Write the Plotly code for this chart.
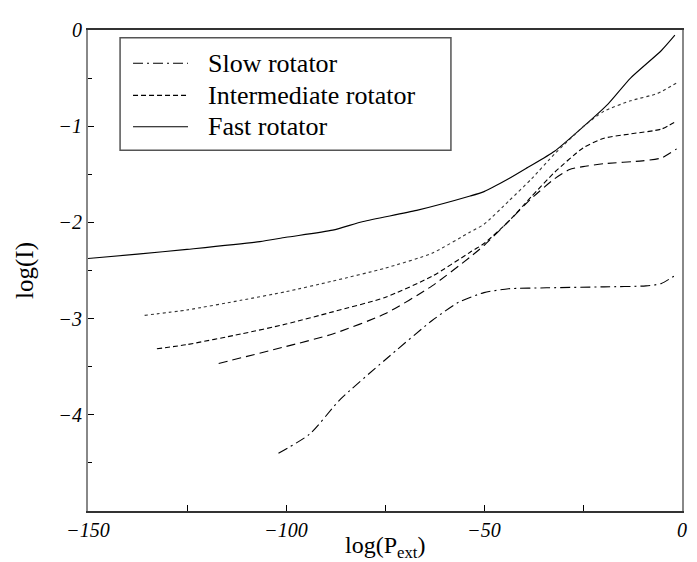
import plotly.graph_objects as go

# ---- data ----
fast_x = [-150, -137.5, -125, -106.6, -100, -88.2, -80.5, -67, -53.5, -50, -43.8, -39, -32.2, -25, -18.7, -13, -5.2, -1.8]
fast_y = [-2.375, -2.33, -2.28, -2.20, -2.155, -2.08, -1.99, -1.875, -1.726, -1.68, -1.547, -1.43, -1.26, -1.007, -0.77, -0.5, -0.213, -0.054]

dot_x = [-135.7, -125, -111.4, -100, -88.2, -75, -63.1, -53.5, -50, -43.8, -38, -32.2, -25, -19.7, -13, -6.2, -1.35]
dot_y = [-2.966, -2.91, -2.81, -2.72, -2.61, -2.476, -2.32, -2.10, -2.02, -1.78, -1.547, -1.29, -1.007, -0.845, -0.736, -0.66, -0.55]

inter_x = [-132.6, -125, -111.4, -100, -88.2, -75, -63.1, -53.5, -50, -43.8, -38, -32.2, -25, -19.7, -13, -5.2, -1.35]
inter_y = [-3.314, -3.27, -3.16, -3.057, -2.93, -2.78, -2.56, -2.31, -2.22, -1.99, -1.73, -1.48, -1.226, -1.125, -1.08, -1.03, -0.946]

long_x = [-117, -100, -88.2, -75, -63.1, -53.5, -50, -43.8, -38, -32.2, -28.4, -25, -19.7, -10, -5.2, -1.35]
long_y = [-3.466, -3.29, -3.16, -2.95, -2.66, -2.36, -2.24, -1.99, -1.75, -1.547, -1.45, -1.42, -1.39, -1.36, -1.33, -1.236]

slow_x = [-101.9, -94, -86.3, -75, -63.1, -56.4, -50, -43.8, -34.2, -19.7, -9.1, -5.2, -1.35]
slow_y = [-4.40, -4.2, -3.84, -3.43, -3.02, -2.83, -2.73, -2.69, -2.68, -2.67, -2.66, -2.635, -2.54]

legend_names = ["Slow rotator", "Intermediate rotator", "Fast rotator"]

x_tickvals = [-150, -100, -50, 0]
x_ticktext = ["\u2212150", "\u2212100", "\u221250", "0"]
y_tickvals = [0, -1, -2, -3, -4]
y_ticktext = ["0", "\u22121", "\u22122", "\u22123", "\u22124"]

SERIF = "Liberation Serif"
DASH_SLOW = "10px,4px,2px,4px"
DASH_INTER = "5px,3px"
DASH_LONG = "9px,5px"

fig = go.Figure()
common = dict(mode="lines", showlegend=False, hoverinfo="skip")
fig.add_trace(go.Scatter(x=fast_x, y=fast_y, line=dict(color="black", width=1.1, shape="spline", smoothing=0.6), **common))
fig.add_trace(go.Scatter(x=dot_x, y=dot_y, line=dict(color="#333", width=1.1, dash="dot", shape="spline", smoothing=0.6), **common))
fig.add_trace(go.Scatter(x=inter_x, y=inter_y, line=dict(color="black", width=1.1, dash=DASH_INTER, shape="spline", smoothing=0.6), **common))
fig.add_trace(go.Scatter(x=long_x, y=long_y, line=dict(color="black", width=1.1, dash=DASH_LONG, shape="spline", smoothing=0.6), **common))
fig.add_trace(go.Scatter(x=slow_x, y=slow_y, line=dict(color="black", width=1.1, dash=DASH_SLOW, shape="spline", smoothing=0.6), **common))

# ---- custom legend box (paper coordinates) ----
fig.add_shape(type="rect", xref="paper", yref="paper", x0=0.054, x1=0.611, y0=0.75, y1=0.984,
              line=dict(color="#555", width=1.5), fillcolor="white", layer="above")
rows_y = [0.931, 0.864, 0.799]
dashes = [DASH_SLOW, DASH_INTER, "solid"]
for name, yy, dsh in zip(legend_names, rows_y, dashes):
    fig.add_shape(type="line", xref="paper", yref="paper", x0=0.0758, x1=0.1684, y0=yy, y1=yy,
                  line=dict(color="black", width=1.1, dash=dsh), layer="above")
    fig.add_annotation(xref="paper", yref="paper", x=0.1987, y=yy, text=name, showarrow=False,
                       xanchor="left", yanchor="middle", font=dict(family=SERIF, size=26, color="black"))

# x-axis title as an annotation for precise placement
fig.add_annotation(xref="paper", yref="paper", x=0.5, y=-0.074, text="log(P<sub>ext</sub>)",
                   showarrow=False, xanchor="center", yanchor="middle",
                   font=dict(family=SERIF, size=24, color="black"))

fig.update_layout(
    width=697, height=562,
    margin=dict(l=80, r=23, t=11, b=59),
    paper_bgcolor="white", plot_bgcolor="white",
    font=dict(family=SERIF, color="black"),
)
fig.update_xaxes(
    range=[-150, 0], tickvals=x_tickvals, ticktext=x_ticktext,
    ticks="inside", ticklen=6, tickwidth=1, tickcolor="black",
    minor=dict(ticks="inside", ticklen=6, tickwidth=1, tickcolor="black", dtick=25, tick0=0),
    showline=True, linecolor="#333", linewidth=2, mirror=True,
    showgrid=False, zeroline=False,
    tickfont=dict(family=SERIF, size=20, style="italic", color="black"),
)
fig.update_yaxes(
    range=[-5, 0], tickvals=y_tickvals, ticktext=y_ticktext,
    ticks="inside", ticklen=6, tickwidth=1, tickcolor="black",
    minor=dict(ticks="inside", ticklen=4, tickwidth=1, tickcolor="black", dtick=0.5, tick0=0),
    showline=True, linecolor="#888", linewidth=2, mirror=True,
    showgrid=False, zeroline=False,
    tickfont=dict(family=SERIF, size=20, style="italic", color="black"),
    title=dict(text="log(I)", font=dict(family=SERIF, size=25), standoff=18),
)

fig.write_html("out.html")
